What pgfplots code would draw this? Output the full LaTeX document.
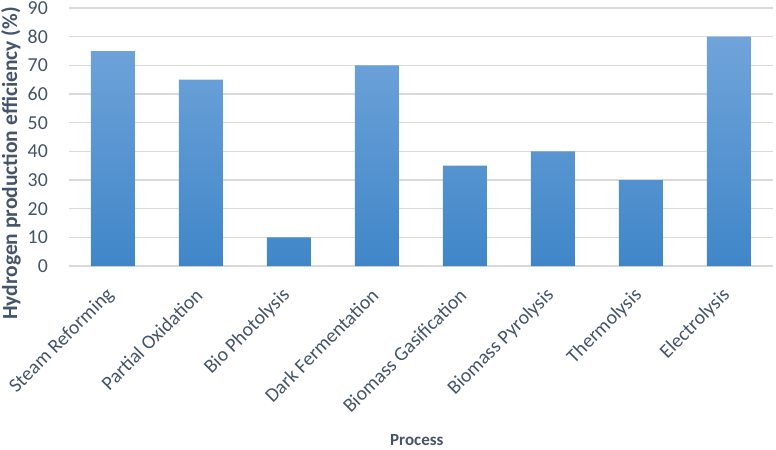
\documentclass[border=0pt]{standalone}
\usepackage{pgfplots}
\pgfplotsset{compat=1.18}
\usepackage{fontspec}
\setmainfont{Carlito}
\definecolor{txt}{HTML}{44546A}
\definecolor{gridc}{HTML}{D9D9D9}
\definecolor{bartop}{RGB}{112,164,218}
\definecolor{barbot}{RGB}{64,134,200}
\begin{document}
\begin{tikzpicture}
\begin{axis}[
  scale only axis,
  width=704bp, height=258bp,
  xmin=-0.5, xmax=7.5,
  ymin=0, ymax=90,
  ytick={0,10,...,90},
  xtick={0,...,7},
  xticklabels={Steam Reforming,Partial Oxidation,Bio Photolysis,Dark Fermentation,Biomass Gasification,Biomass Pyrolysis,Thermolysis,Electrolysis},
  major tick length=0pt,
  axis line style={draw=none},
  ymajorgrids,
  grid style={gridc, line width=1.2bp},
  /pgf/number format/assume math mode=true,
  tick label style={text=txt, font=\fontsize{19.8bp}{23bp}\selectfont},
  yticklabel style={inner sep=0pt, xshift=-21bp},
  xticklabel style={inner sep=0pt, xshift=-2bp, yshift=-26bp, rotate=45, anchor=east},
  xlabel={Process},
  ylabel={Hydrogen production efficiency (\%)},
  xlabel style={text=txt, font=\bfseries\fontsize{17bp}{20bp}\selectfont, at={(axis description cs:0.494,-0.674)}, anchor=center},
  ylabel style={text=txt, font=\bfseries\fontsize{21.5bp}{25bp}\selectfont, at={(axis description cs:-0.0824,0.397)}, anchor=center},
  ybar, bar width=44bp,
  clip=false,
]
\addplot[draw=none, top color=bartop, bottom color=barbot] coordinates {
(0,75) (1,65) (2,10) (3,70) (4,35) (5,40) (6,30) (7,80)
};
\end{axis}
\pgfresetboundingbox
\useasboundingbox (-69bp,-184bp) rectangle (707bp,266bp);
\end{tikzpicture}
\end{document}
